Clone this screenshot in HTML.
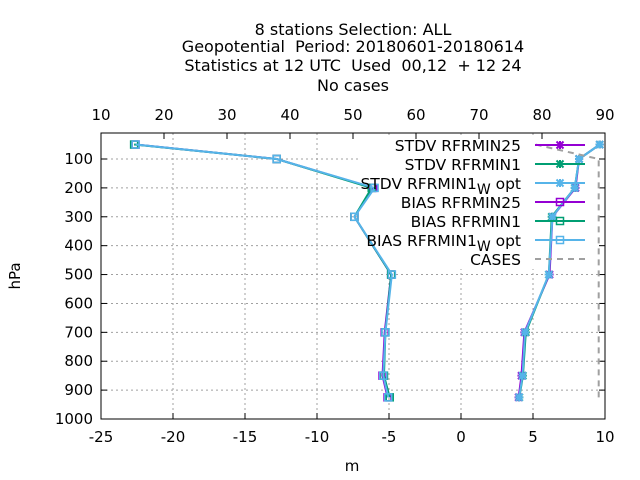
<!DOCTYPE html>
<html><head><meta charset="utf-8"><style>
body{margin:0;background:#fff;}
svg{display:block;font-family:"DejaVu Sans","Liberation Sans",sans-serif;}
</style></head><body>
<svg id="chart" width="640" height="480">
<g font-size="16" text-anchor="middle" fill="#000">
<text x="353" y="35">8 stations Selection: ALL</text>
<text x="353" y="52" xml:space="preserve">Geopotential  Period: 20180601-20180614</text>
<text x="353" y="71" xml:space="preserve">Statistics at 12 UTC  Used  00,12  + 12 24</text>
<text x="353" y="91">No cases</text>
</g>
<g id="grid"></g>
<rect x="358" y="136" width="245" height="133" fill="#fff"/>
<g id="axes"></g>
<g id="series"></g>
<g id="legend"></g>
<text x="352" y="471" font-size="15" text-anchor="middle">m</text>
<text x="20" y="276" font-size="15" text-anchor="middle" transform="rotate(-90 20 276)">hPa</text>
</svg>
<script>
const levels=[50,100,200,300,500,700,850,925];
const biasR25=[-22.6,-12.8,-6.1,-7.4,-4.85,-5.3,-5.45,-5.1];
const biasR1=[-22.7,-12.8,-6.2,-7.4,-4.85,-5.25,-5.35,-4.95];
const biasR1W=[-22.6,-12.8,-6.0,-7.4,-4.8,-5.25,-5.4,-5.05];
const stdvR25=[9.63,8.2,7.95,6.35,6.15,4.4,4.2,4.0];
const stdvR1=[9.63,8.2,7.9,6.3,6.1,4.5,4.3,4.05];
const stdvR1W=[9.63,8.2,7.9,6.35,6.1,4.45,4.27,4.04];
const cases=[79,89,89,89,89,89,89,89];
const xTicks=[-25,-20,-15,-10,-5,0,5,10];
const x2Ticks=[10,20,30,40,50,60,70,80,90];
const yTicks=[100,200,300,400,500,600,700,800,900,1000];

const L=101,R=605,T=133,B=419;
const xs=v=>L+(v+25)/35*(R-L);
const x2s=v=>L+(v-10)/80*(R-L);
const ys=p=>T+(p-10)/990*(B-T);
const NS='http://www.w3.org/2000/svg';
function mk(parent,tag,attrs){const e=document.createElementNS(NS,tag);for(const k in attrs)e.setAttribute(k,attrs[k]);parent.appendChild(e);return e;}
const grid=document.getElementById('grid'),axes=document.getElementById('axes'),ser=document.getElementById('series'),leg=document.getElementById('legend');

xTicks.forEach(v=>{const x=xs(v);
 if(v>-25&&v<10){const g=mk(grid,'line',{x1:x,x2:x,y1:T,y2:B,stroke:'#a0a0a0','stroke-dasharray':'2,3','stroke-width':1});
 
 }
 const t=mk(axes,'line',{x1:x,x2:x,y1:B,y2:B-6,stroke:'#000'});
 
 
 const lb=mk(axes,'text',{x:x,y:442,'font-size':15,'text-anchor':'middle'});lb.textContent=v;
 
 
});
x2Ticks.forEach(v=>{const x=x2s(v);
 const t=mk(axes,'line',{x1:x,x2:x,y1:T,y2:T+6,stroke:'#000'});
 
 
 const lb=mk(axes,'text',{x:x,y:120,'font-size':15,'text-anchor':'middle'});lb.textContent=v;
 
 
});
yTicks.forEach(p=>{const y=ys(p);
 if(p<1000){const g=mk(grid,'line',{x1:L,x2:R,y1:y,y2:y,stroke:'#a0a0a0','stroke-dasharray':'2,3','stroke-width':1});
 
 }
 const t=mk(axes,'line',{x1:L,x2:L+6,y1:y,y2:y,stroke:'#000'});
 
 
 const t2=mk(axes,'line',{x1:R,x2:R-6,y1:y,y2:y,stroke:'#000'});
 
 
 const lb=mk(axes,'text',{x:L-8,y:y+5,'font-size':15,'text-anchor':'end'});lb.textContent=p;
 
 
});
const frame=mk(axes,'rect',{x:L,y:T,width:R-L,height:B-T,fill:'none',stroke:'#000','stroke-width':1});



function marker(g,x,y,type,color){
 if(type==='sq'){return mk(g,'rect',{x:x-3.5,y:y-3.5,width:7,height:7,fill:'none',stroke:color,'stroke-width':1.5});}
 return mk(g,'path',{d:`M${x-4},${y}H${x+4}M${x},${y-4}V${y+4}M${x-3.5},${y-3.5}L${x+3.5},${y+3.5}M${x-3.5},${y+3.5}L${x+3.5},${y-3.5}`,stroke:color,'stroke-width':2});
}
const defs=[
 {name:'STDV RFRMIN25',data:stdvR25,c:'#9400d3',m:'star'},
 {name:'STDV RFRMIN1',data:stdvR1,c:'#009e73',m:'star'},
 {name:'STDV RFRMIN1 W opt',data:stdvR1W,c:'#56b4e9',m:'star'},
 {name:'BIAS RFRMIN25',data:biasR25,c:'#9400d3',m:'sq'},
 {name:'BIAS RFRMIN1',data:biasR1,c:'#009e73',m:'sq'},
 {name:'BIAS RFRMIN1 W opt',data:biasR1W,c:'#56b4e9',m:'sq'}
];
defs.forEach(d=>{
 const g=mk(ser,'g',{});
 
 
 mk(g,'polyline',{points:levels.map((p,i)=>xs(d.data[i])+','+ys(p)).join(' '),fill:'none',stroke:d.c,'stroke-width':2});
 levels.forEach((p,i)=>{const m=marker(g,xs(d.data[i]),ys(p),d.m,d.c);
  
  });
});
const cpts=levels.map((p,i)=>x2s(cases[i])+','+ys(p)).join(' ');
const cl=mk(ser,'polyline',{points:cpts,fill:'none',stroke:'#a0a0a0','stroke-width':2,'stroke-dasharray':'6,5'});


const entries=defs.map(d=>({n:d.name,c:d.c,m:d.m})).concat([{n:'CASES',c:'#a0a0a0',m:'none'}]);
entries.forEach((e,i)=>{
 const y=145+i*19;
 const g=mk(leg,'g',{});
 
 
 const t=mk(g,'text',{x:521,y:y+6,'font-size':15.5,'text-anchor':'end'});
 if(e.n.endsWith('W opt')){t.textContent=e.n.replace(' W opt','');const s=mk(t,'tspan',{dy:5,'font-size':14});s.textContent='W';const s2=mk(t,'tspan',{dy:-5});s2.textContent=' opt';}
 else t.textContent=e.n;
 if(e.m==='none'){mk(g,'line',{x1:535,x2:585,y1:y,y2:y,stroke:e.c,'stroke-width':2,'stroke-dasharray':'6,5'});}
 else{mk(g,'line',{x1:535,x2:585,y1:y,y2:y,stroke:e.c,'stroke-width':2});marker(g,560,y,e.m,e.c);}
});
</script>
</body></html>
